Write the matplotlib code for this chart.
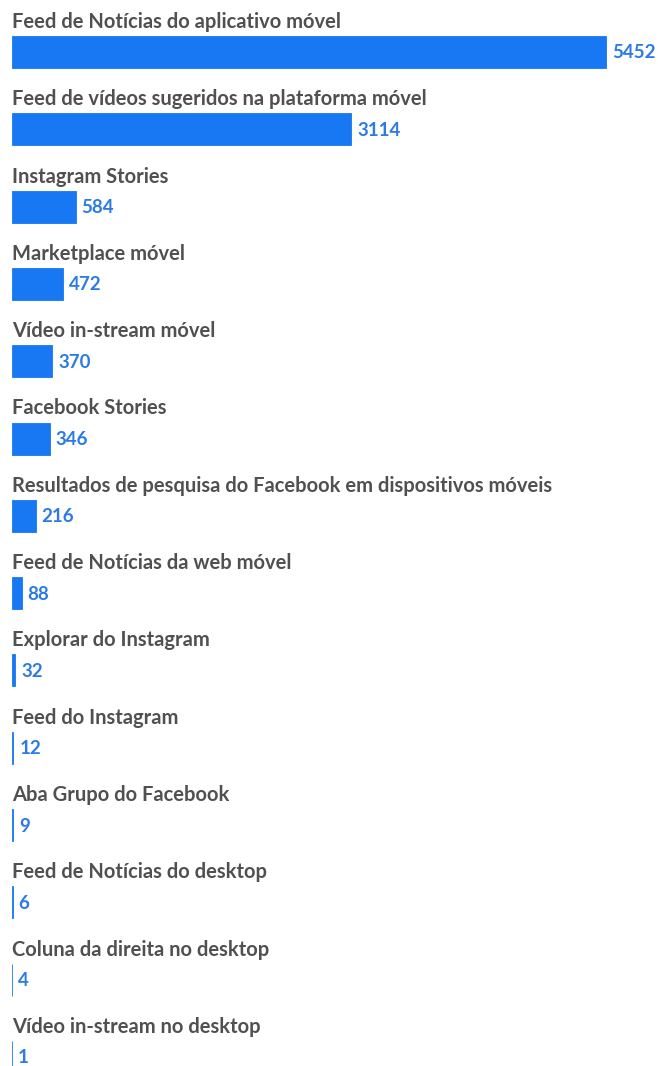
import numpy as np
import matplotlib.pyplot as plt

posicionamentos = [
    "Feed de Notícias do aplicativo móvel",
    "Feed de vídeos sugeridos na plataforma móvel",
    "Instagram Stories",
    "Marketplace móvel",
    "Vídeo in-stream móvel",
    "Facebook Stories",
    "Resultados de pesquisa do Facebook em dispositivos móveis",
    "Feed de Notícias da web móvel",
    "Explorar do Instagram",
    "Feed do Instagram",
    "Aba Grupo do Facebook",
    "Feed de Notícias do desktop",
    "Coluna da direita no desktop",
    "Vídeo in-stream no desktop",
]
valores = [5452, 3114, 584, 472, 370, 346, 216, 88, 32, 12, 9, 6, 4, 1]

azul = "#1877F2"
cinza = "#505050"

fig = plt.figure(figsize=(6.58, 10.66), dpi=100)
ax = fig.add_axes([0, 0, 1, 1])

# eixo y em "pixels" para ficar facil de alinhar
passo = 77.3
y = 52 + passo * np.arange(len(valores))
ax.barh(y, valores, height=32, color=azul, edgecolor=azul, linewidth=0.6)

# px por unidade: 594 px para o maior valor
escala = 594 / max(valores)
for yi, nome, v in zip(y, posicionamentos, valores):
    ax.text(0, yi - 24, nome, fontsize=14.5, fontweight="bold",
            family="Lato", color=cinza, va="baseline", ha="left")
    ax.text(v + 6 / escala, yi + 1, str(v), fontsize=13.5, fontweight="bold",
            family="Lato", color="#2c7be5", va="center", ha="left")

ax.set_xlim(-12 / escala, (658 - 12) / escala)
ax.set_ylim(1066, 0)
ax.axis("off")

plt.savefig("out.png", dpi=100)
